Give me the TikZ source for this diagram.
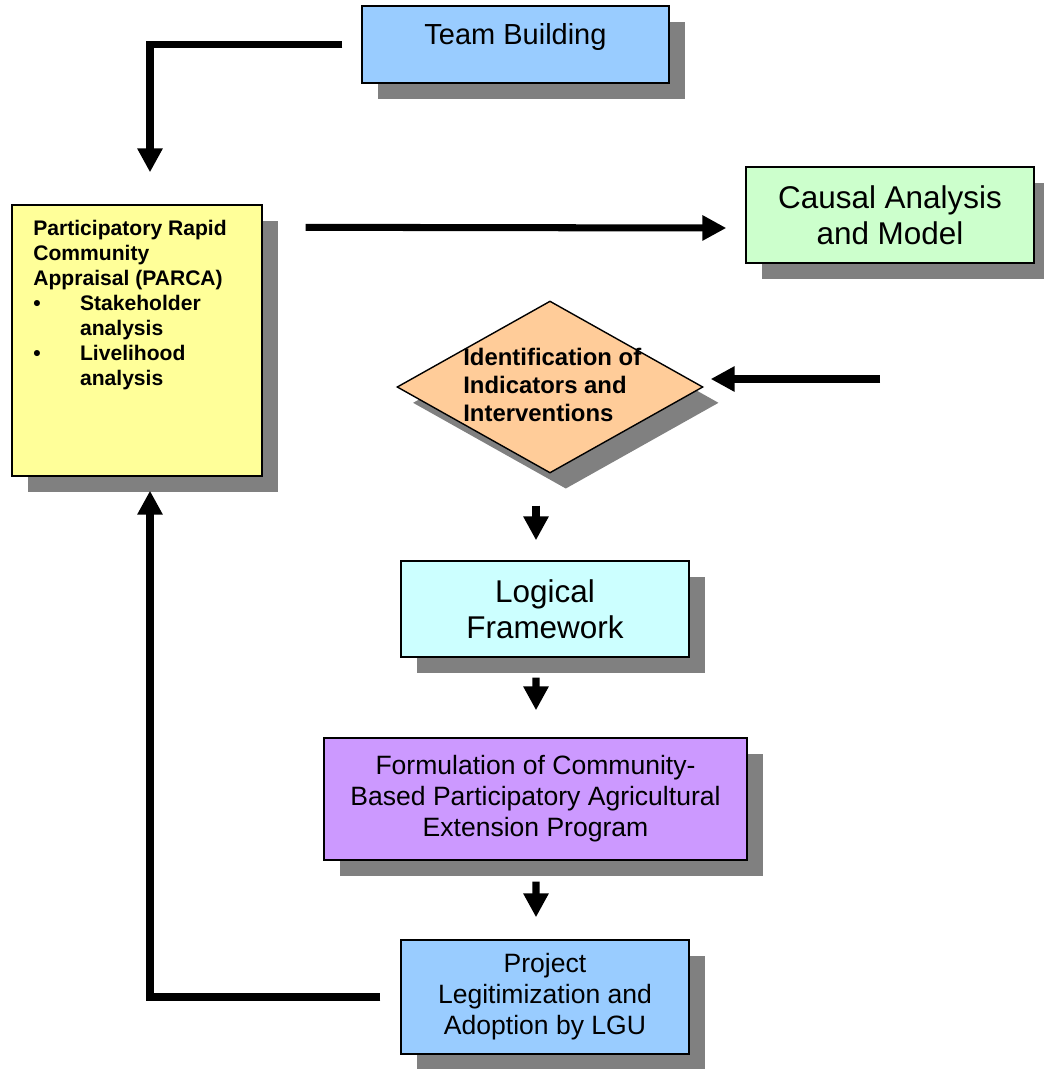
\documentclass[tikz,border=0pt]{standalone}
\usepackage{fontspec}
\setmainfont{Liberation Sans}
\usepackage{tikz}
\usepackage{xcolor}
\usetikzlibrary{shapes.geometric}
\usetikzlibrary{positioning}
\usetikzlibrary{arrows.meta,calc,shadows}

\definecolor{teamblue}{HTML}{99CCFF}
\definecolor{causalgreen}{HTML}{CCFFCC}
\definecolor{parcayellow}{HTML}{FFFF99}
\definecolor{identorange}{HTML}{FFCC99}
\definecolor{logiccyan}{HTML}{CCFFFF}
\definecolor{formviolet}{HTML}{CC99FF}
\definecolor{shadowgray}{HTML}{808080}

\begin{document}
\begin{tikzpicture}[x=0.02cm,y=-0.02cm,
  box/.style={draw=black, line width=0.8pt, align=center,
    drop shadow={shadow xshift=9pt, shadow yshift=-9pt, fill=shadowgray, opacity=1}},
  bigtext/.style={font=\fontsize{17.9}{20.7}\selectfont},
  midtext/.style={font=\fontsize{15.1}{17.6}\selectfont},
  arrow/.style={line width=4pt, -{Triangle[width=13.6pt,length=13.6pt]}}]
\useasboundingbox (0,0) rectangle (1044,1069);

\node [box, fill=teamblue, minimum width=6.14cm, minimum height=1.54cm] (team) at (515.5,44.5) {};
\node [anchor=base, font=\fontsize{16.5}{19}\selectfont] (team-txt) at (515.5,44) {Team Building};

\node [box, fill=parcayellow, minimum width=5cm, minimum height=5.42cm] (parca) at (137,340.5) {};
\node [anchor=north west, inner sep=0pt, align=left, font=\bfseries\fontsize{12}{14.2}\selectfont] (parca-txt) at (33,220)
  {Participatory Rapid\\Community\\Appraisal (PARCA)\\
   \makebox[26.6pt][l]{\textbullet}Stakeholder\\\hspace*{26.6pt}analysis\\
   \makebox[26.6pt][l]{\textbullet}Livelihood\\\hspace*{26.6pt}analysis};

\node [box, bigtext, fill=causalgreen, minimum width=5.76cm, minimum height=1.92cm] (causal) at (890,215) {Causal Analysis\\and Model};

\node [box, diamond, fill=identorange, aspect=1.78, inner sep=0pt, minimum width=6.12cm, minimum height=3.44cm] (ident) at (550,387) {};
\node [anchor=north west, inner sep=0pt, align=left, font=\bfseries\fontsize{13.6}{15.9}\selectfont] (ident-txt) at (463,348)
  {Identification of\\Indicators and\\Interventions};

\node [box, bigtext, fill=logiccyan, minimum width=5.76cm, minimum height=1.92cm] (logic) at (545,609) {Logical\\Framework};
\node [box, midtext, fill=formviolet, minimum width=8.46cm, minimum height=2.44cm] (form) at (535.5,799)
  {Formulation of Community-\\Based Participatory Agricultural\\Extension Program};
\node [box, midtext, fill=teamblue, minimum width=5.76cm, minimum height=2.28cm] (proj) at (545,997)
  {Project\\Legitimization and\\Adoption by LGU};

\coordinate (feed) at (880,379);

\draw [arrow] ($(team.west)+(-19,0)$) -| ($(parca.north)+(13,-32)$);
\draw [arrow] ($(parca.north east)+(43,23)$) -- ($(causal.west)+(-19,13)$);
\draw [arrow] (feed) -- ($(ident.east)+(7,-8)$);
\draw [arrow] ($(ident.south)+(-14,32)$) -- ($(logic.north)+(-9,-20)$);
\draw [arrow] ($(logic.south)+(-9,20)$) -- ($(form.north)+(0.5,-27)$);
\draw [arrow] ($(form.south)+(0.5,21)$) -- ($(proj.north)+(-9,-22)$);
\draw [arrow] ($(proj.west)+(-20,0)$) -| ($(parca.south)+(13,14)$);
\end{tikzpicture}
\end{document}
